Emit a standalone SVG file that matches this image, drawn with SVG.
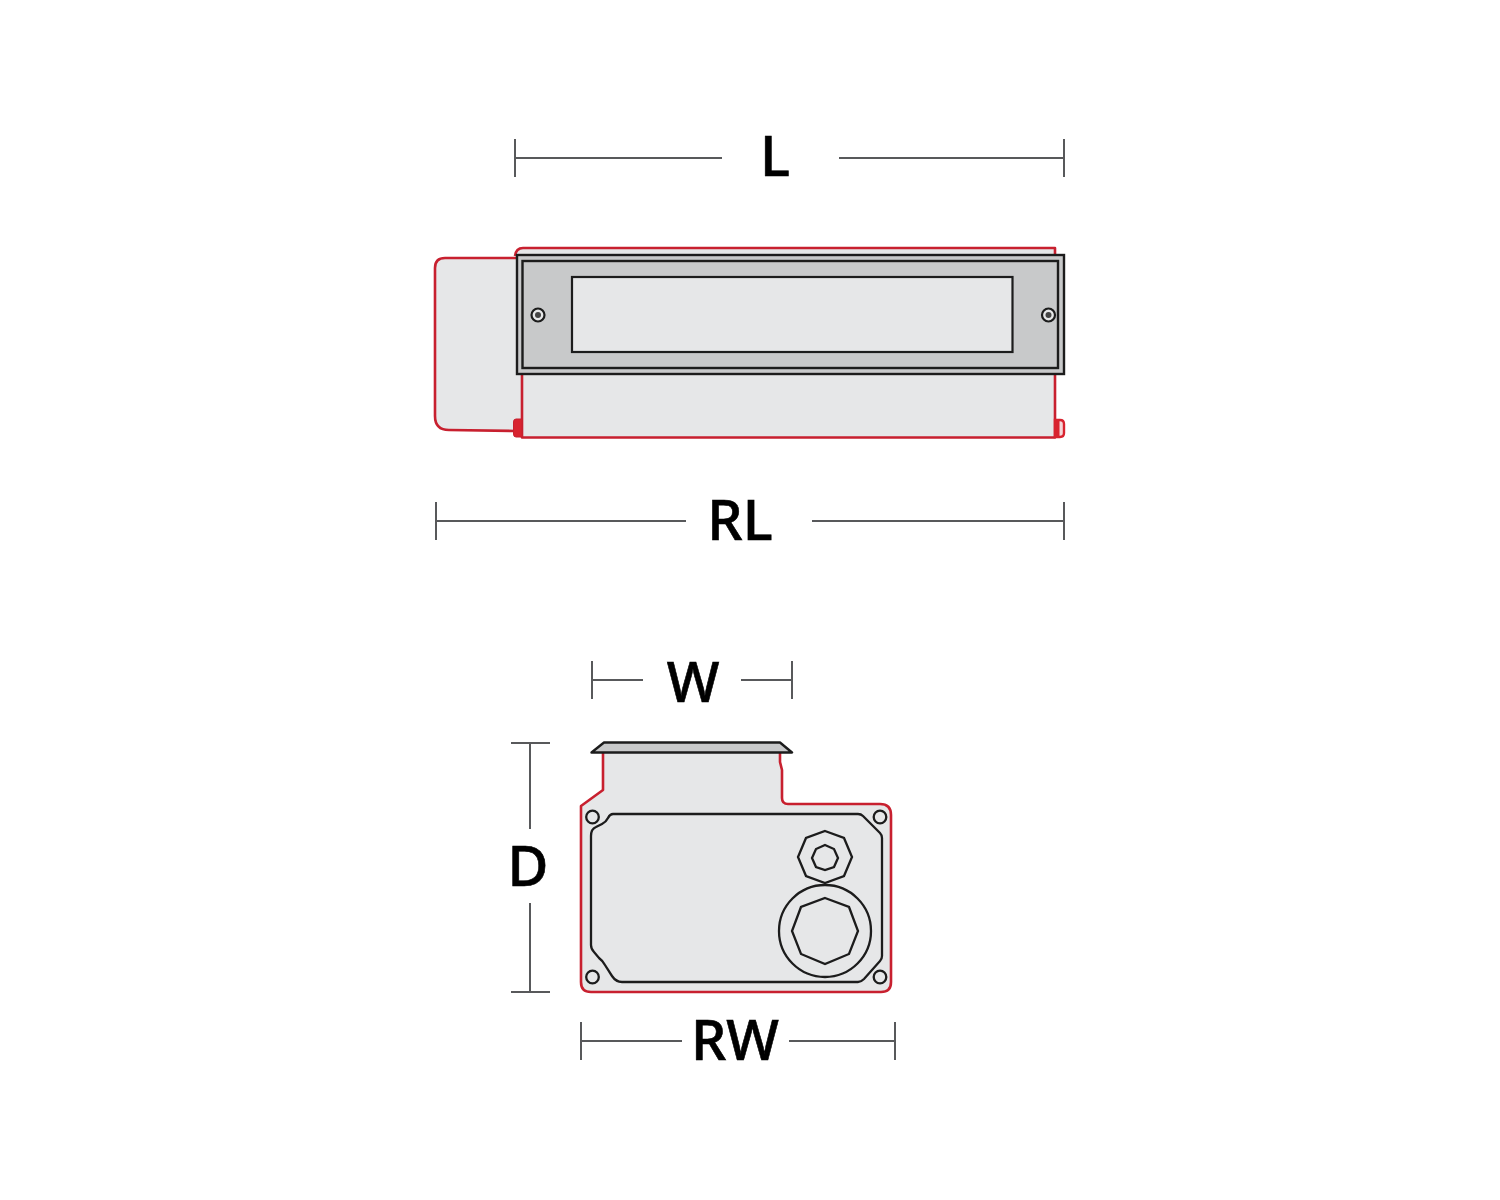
<svg xmlns="http://www.w3.org/2000/svg" width="1500" height="1200" viewBox="0 0 1500 1200">
<style>
.dim{fill:none;stroke:#58595b;stroke-width:2}
.fillg{fill:#e6e7e8;stroke:none}
.red{fill:none;stroke:#c8202f;stroke-width:2.600;stroke-linejoin:round}
.blk{fill:none;stroke:#1c1c1c;stroke-width:2.300}
.lbl{font-family:"Noto Sans","Open Sans",sans-serif;font-weight:500;font-size:56px;fill:#000;text-anchor:middle;stroke:#000;stroke-width:.6}
</style>
<rect width="1500" height="1200" fill="#fff"/>
<g id="front-view">
<path class="fillg" d="M515 256Q516 248 523 248H1055V256Z"/>
<path class="red" d="M515 256Q516 248 523 248H1055V256"/>
<path class="fillg" d="M522 258H445Q435 258 435 268V416Q435 430 449 430L522 431Z"/>
<path class="red" d="M517 258H445Q435 258 435 268V416Q435 430 449 430L515 431"/>
<path class="fillg" d="M522 372V437.500H1055V372Z"/>
<path class="red" d="M522 372V437.500H1055V372" stroke-width="2"/>
<path d="M516 419H522V437H516Q513.500 437 513.500 434V422Q513.500 419 516 419Z" fill="#d8232f" stroke="#c8202f" stroke-width="1"/>
<path d="M1055 420H1060Q1064 420 1064 424V433Q1064 437 1060 437H1055Z" fill="#f4d6d8" stroke="#d8232f" stroke-width="2.400"/>
<rect x="1055" y="419" width="4.500" height="18" fill="#d8232f"/>
<rect x="517" y="255" width="547" height="119" fill="#c8c9ca" stroke="#1c1c1c" stroke-width="2.400"/>
<rect x="522.500" y="261" width="535.500" height="107" fill="#c8c9ca" stroke="#1c1c1c" stroke-width="2.400"/>
<rect x="572" y="277" width="440.500" height="75" fill="#e6e7e8" stroke="#1c1c1c" stroke-width="2.200"/>
<g fill="#e6e7e8" stroke="#1c1c1c" stroke-width="2.200"><circle cx="538" cy="315" r="6.500"/><circle cx="1048.500" cy="315" r="6.500"/></g>
<circle cx="538" cy="315" r="3" fill="#444"/><circle cx="1048.500" cy="315" r="3" fill="#444"/>
</g>
<g id="end-view">
<path class="fillg" d="M603 752V790L581 806V982Q581 992 591 992H881Q891 992 891 982V815Q891 804 880 804H788Q782 804 782 798V770L780 762V750H603Z"/>
<path class="red" d="M603 752V790L581 806V982Q581 992 591 992H881Q891 992 891 982V815Q891 804 880 804H788Q782 804 782 798V770L780 762V752"/>
<path d="M591.500 752.500L604 742.500H780L792 752.500Z" fill="#c8c9ca" stroke="#1c1c1c" stroke-width="2.400" stroke-linejoin="round"/>
<path class="blk" d="M613 814H858Q861 814 863 816L880 833Q882 835 882 838V956Q882 959 880 961L864 979Q861 982 858 982H622Q616 982 612 976L605 965Q603 961 599 958L594 952Q591 949 591 945V836Q591 829 596 827L602 824Q606 822 608 818Q610 814 613 814Z"/>
<g class="blk">
<circle cx="592.500" cy="817" r="6.300"/><circle cx="880" cy="817" r="6.300"/><circle cx="592.500" cy="977" r="6.300"/><circle cx="880" cy="977" r="6.300"/>
<circle cx="825" cy="931" r="46"/>
<polygon points="825,898 849,907 858,931 849,954 825,964 801,954 792,931 801,907"/>
<polygon points="825,831 844,838 852,857 844,876 825,883 806,876 798,857 806,838"/>
<polygon points="825,845 834,849 838,858 834,867 825,870 816,867 812,858 816,849"/>
</g>
</g>
<g id="dimensions">
<path class="dim" d="M515 139V177M515 158H722M839 158H1064M1064 139V177"/>
<path class="dim" d="M436 502V540M436 521H686M812 521H1064M1064 502V540"/>
<path class="dim" d="M592 661V699M592 680H643M741 680H792M792 661V699"/>
<path class="dim" d="M511 743H550M530 743V829M530 903V992M511 992H550"/>
<path class="dim" d="M581 1022V1060M581 1041H682M789 1041H895M895 1022V1060"/>
</g>
<g id="labels">
<text class="lbl" x="775" y="175.500">L</text>
<text class="lbl" x="740" y="539.500">RL</text>
<text class="lbl" x="693" y="701.500">W</text>
<text class="lbl" x="528" y="885.500">D</text>
<text class="lbl" x="735" y="1059.500">RW</text>
</g>
</svg>
